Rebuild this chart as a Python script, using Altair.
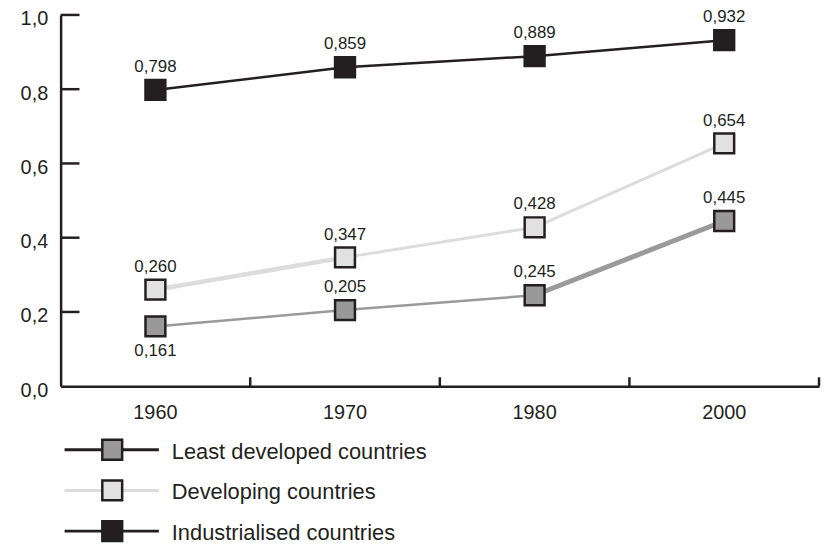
import altair as alt
import pandas as pd

years = ["1960", "1970", "1980", "2000"]
series = ["Least developed countries", "Developing countries", "Industrialised countries"]
ldc = [0.161, 0.205, 0.245, 0.445]
dev = [0.260, 0.347, 0.428, 0.654]
ind = [0.798, 0.859, 0.889, 0.932]
values = {series[0]: ldc, series[1]: dev, series[2]: ind}

fills = ["#999999", "#e1e1e1", "#231f20"]
line_colors = ["#9a9a9a", "#dcdcdc", "#231f20"]
legend_line_colors = ["#231f20", "#dcdcdc", "#231f20"]
seg_widths = {series[0]: [2.5, 2.5, 5], series[1]: [4.5, 3, 3], series[2]: [2.5, 2.5, 2.5]}
label_below = {(series[0], "1960")}

ink = "#231f20"
font = "Liberation Sans"

# points table
rows = []
for s in series:
    for y, v in zip(years, values[s]):
        rows.append({"series": s, "year": y, "value": v,
                     "label": f"{v:.3f}".replace(".", ","),
                     "below": (s, y) in label_below})
pts = pd.DataFrame(rows)

# segments table
seg_rows = []
for s in series:
    vals = values[s]
    for i in range(len(years) - 1):
        sid = f"{s}-{i}"
        for j in (i, i + 1):
            seg_rows.append({"series": s, "seg": sid, "year": years[j], "value": vals[j],
                             "w": seg_widths[s][i]})
segs = pd.DataFrame(seg_rows)

W, H = 764, 374
xsc = alt.Scale(type="band", domain=years, paddingInner=0, paddingOuter=0)
ysc = alt.Scale(domain=[0, 1], nice=False, zero=True)
col = alt.Color("series:N", scale=alt.Scale(domain=series, range=line_colors), legend=None)

x_axis = alt.Axis(ticks=False, labelFontSize=20, labelPadding=17, labelColor=ink, labelFont=font,
                  domainColor=ink, domainWidth=2.5, title=None, labelAngle=0)
y_axis = alt.Axis(ticks=False, grid=False, labelFontSize=20, labelPadding=13, labelColor=ink,
                  labelFont=font, domainColor=ink, domainWidth=2.5, title=None,
                  labelOffset=4,
                  values=[0, 0.2, 0.4, 0.6, 0.8, 1.0], minExtent=50, maxExtent=50,
                  labelExpr="replace(format(datum.value, '.1f'), '.', ',')")

base_axes = alt.Chart(pd.DataFrame({"year": years})).mark_rule(strokeWidth=2.5, color=ink).encode(
    x=alt.X("year:N", scale=xsc, axis=x_axis, bandPosition=1),
    y=alt.value(H), y2=alt.value(H - 9))

ytick_df = pd.DataFrame({"v": [0.2, 0.4, 0.6, 0.8, 1.0]})
yticks = alt.Chart(ytick_df).mark_rule(strokeWidth=2.5, color=ink).encode(
    y=alt.Y("v:Q", scale=ysc, axis=y_axis), x=alt.value(0), x2=alt.value(19))

lines = alt.Chart(segs).mark_line().encode(
    x=alt.X("year:N", scale=xsc),
    y=alt.Y("value:Q", scale=ysc),
    color=col,
    detail="seg:N",
    strokeWidth=alt.StrokeWidth("w:Q", scale=None),
    order=alt.Order("year:N"),
)

points = alt.Chart(pts).mark_point(shape="square", filled=True, size=400, stroke=ink,
                                   strokeWidth=2.5, opacity=1).encode(
    x=alt.X("year:N", scale=xsc),
    y=alt.Y("value:Q", scale=ysc),
    fill=alt.Fill("series:N", scale=alt.Scale(domain=series, range=fills), legend=None),
)

lab_above = alt.Chart(pts).transform_filter("!datum.below").mark_text(
    dy=-23, fontSize=17, font=font, color=ink).encode(
    x=alt.X("year:N", scale=xsc), y=alt.Y("value:Q", scale=ysc), text="label:N")
lab_below = alt.Chart(pts).transform_filter("datum.below").mark_text(
    dy=25, fontSize=17, font=font, color=ink).encode(
    x=alt.X("year:N", scale=xsc), y=alt.Y("value:Q", scale=ysc), text="label:N")

main = alt.layer(base_axes, yticks, lines, points, lab_above, lab_below).properties(width=W, height=H)

leg_df = pd.DataFrame({"series": series, "fill": fills, "lc": legend_line_colors})
lysc = alt.Scale(type="point", domain=series, padding=0)
leg_line = alt.Chart(leg_df).mark_rule(strokeWidth=3).encode(
    y=alt.Y("series:N", scale=lysc, axis=None), x=alt.value(4), x2=alt.value(99),
    color=alt.Color("lc:N", scale=None))
leg_pt = alt.Chart(leg_df).mark_point(shape="square", filled=True, size=400, stroke=ink,
                                      strokeWidth=2.5, opacity=1).encode(
    y=alt.Y("series:N", scale=lysc, axis=None), x=alt.value(52),
    fill=alt.Fill("fill:N", scale=None))
leg_txt = alt.Chart(leg_df).mark_text(align="left", fontSize=22, font=font, color=ink, dy=2).encode(
    y=alt.Y("series:N", scale=lysc, axis=None), x=alt.value(112), text="series:N")
legend = alt.layer(leg_line, leg_pt, leg_txt).properties(width=W, height=82)

chart = alt.vconcat(main, legend, spacing=12).properties(
    padding={"left": 3, "top": -2, "right": 0, "bottom": 0}
).configure_view(stroke=None)

chart.save("out.html", embed_options={"renderer": "svg", "actions": False})
